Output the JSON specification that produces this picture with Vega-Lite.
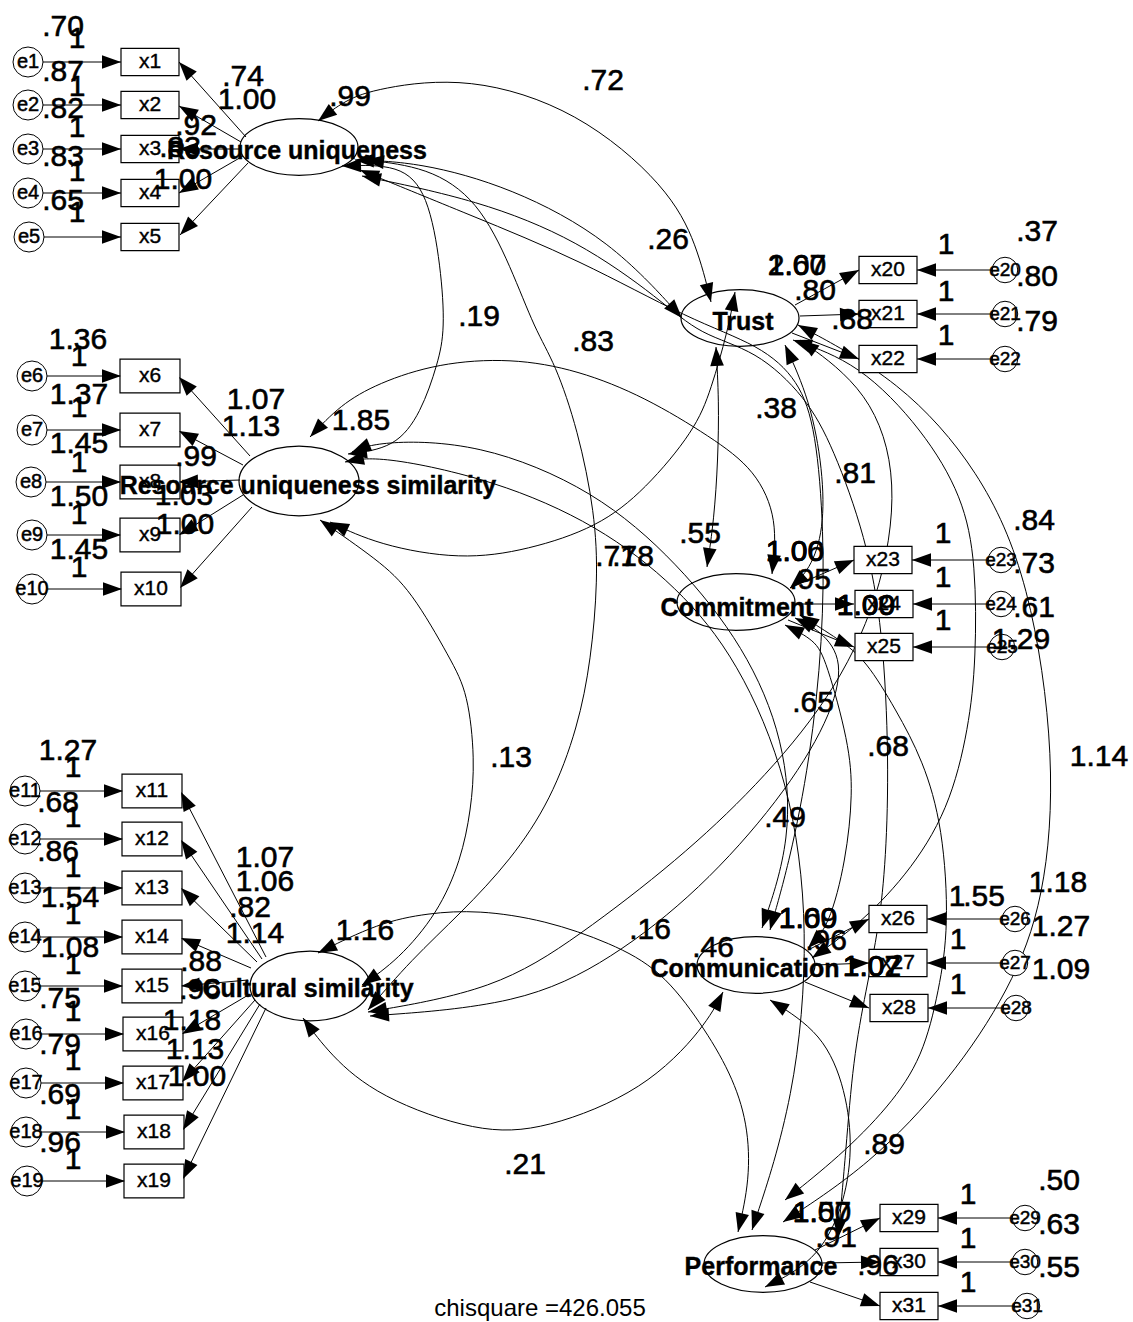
{
"$schema":"https://vega.github.io/schema/vega-lite/v6.json",
"width":1133,"height":1322,"padding":0,"autosize":{"type":"none"},
"background":"white",
"config":{"view":{"stroke":null}},
"datasets":{
"boxesA":[
{"n":"x1","x":150,"y":62},{"n":"x2","x":150,"y":105},{"n":"x3","x":150,"y":149},{"n":"x4","x":150,"y":193},{"n":"x5","x":150,"y":237},
{"n":"x20","x":888,"y":270},{"n":"x21","x":888,"y":314},{"n":"x22","x":888,"y":359},
{"n":"x23","x":883,"y":560},{"n":"x24","x":884,"y":604},{"n":"x25","x":884,"y":647},
{"n":"x26","x":898,"y":919},{"n":"x27","x":898,"y":963},{"n":"x28","x":899,"y":1008},
{"n":"x29","x":909,"y":1218},{"n":"x30","x":909,"y":1262},{"n":"x31","x":909,"y":1306}
],
"boxesB":[
{"n":"x6","x":150,"y":376},{"n":"x7","x":150,"y":430},{"n":"x8","x":150,"y":482},{"n":"x9","x":150,"y":535},{"n":"x10","x":151,"y":589},
{"n":"x11","x":152,"y":791},{"n":"x12","x":152,"y":839},{"n":"x13","x":152,"y":888},{"n":"x14","x":152,"y":937},{"n":"x15","x":152,"y":986},{"n":"x16","x":153,"y":1034},{"n":"x17","x":153,"y":1083},{"n":"x18","x":154,"y":1132},{"n":"x19","x":154,"y":1181}
],
"errsL":[
{"n":"e1","x":28,"y":62},{"n":"e2","x":28,"y":105},{"n":"e3","x":28,"y":149},{"n":"e4","x":28,"y":193},{"n":"e5","x":29,"y":237},
{"n":"e6","x":32,"y":376},{"n":"e7","x":32,"y":430},{"n":"e8","x":31,"y":482},{"n":"e9","x":32,"y":535},{"n":"e10","x":32,"y":589},
{"n":"e11","x":25,"y":791},{"n":"e12","x":25,"y":839},{"n":"e13","x":25,"y":888},{"n":"e14","x":25,"y":937},{"n":"e15","x":25,"y":986},{"n":"e16","x":26,"y":1034},{"n":"e17","x":26,"y":1083},{"n":"e18","x":26,"y":1132},{"n":"e19","x":27,"y":1181}
],
"errsR":[
{"n":"e20","x":1005,"y":270},{"n":"e21","x":1005,"y":314},{"n":"e22","x":1005,"y":359},
{"n":"e23","x":1001,"y":560},{"n":"e24","x":1001,"y":604},{"n":"e25","x":1002,"y":647},
{"n":"e26","x":1015,"y":919},{"n":"e27","x":1015,"y":963},{"n":"e28","x":1016,"y":1008},
{"n":"e29","x":1025,"y":1218},{"n":"e30","x":1025,"y":1262},{"n":"e31","x":1027,"y":1306}
],
"latA":[
{"n":"Resource uniqueness","x":299,"y":147},
{"n":"Trust","x":740,"y":318},{"n":"Commitment","x":736,"y":602},{"n":"Communication","x":756,"y":965},{"n":"Performance","x":763,"y":1264}
],
"latB":[
{"n":"Resource uniqueness similarity","x":299,"y":481},{"n":"Cultural similarity","x":310,"y":986}
],
"latText":[
{"t":"Resource uniqueness","x":297,"y":151},{"t":"Resource uniqueness similarity","x":308,"y":486},{"t":"Cultural similarity","x":308,"y":989},
{"t":"Trust","x":743,"y":322},{"t":"Commitment","x":737,"y":608},{"t":"Communication","x":745,"y":969},{"t":"Performance","x":761,"y":1267}
],
"arrows":[
{"x":43,"y":62,"x2":121,"y2":62},{"x":43,"y":105,"x2":121,"y2":105},{"x":43,"y":149,"x2":121,"y2":149},{"x":43,"y":193,"x2":121,"y2":193},{"x":44,"y":237,"x2":121,"y2":237},
{"x":47,"y":376,"x2":121,"y2":376},{"x":47,"y":430,"x2":121,"y2":430},{"x":46,"y":482,"x2":121,"y2":482},{"x":47,"y":535,"x2":121,"y2":535},{"x":47,"y":589,"x2":122,"y2":589},
{"x":40,"y":791,"x2":123,"y2":791},{"x":40,"y":839,"x2":123,"y2":839},{"x":40,"y":888,"x2":123,"y2":888},{"x":40,"y":937,"x2":123,"y2":937},{"x":40,"y":986,"x2":123,"y2":986},{"x":41,"y":1034,"x2":124,"y2":1034},{"x":41,"y":1083,"x2":124,"y2":1083},{"x":41,"y":1132,"x2":125,"y2":1132},{"x":42,"y":1181,"x2":125,"y2":1181},
{"x":992,"y":270,"x2":917,"y2":270},{"x":992,"y":314,"x2":917,"y2":314},{"x":992,"y":359,"x2":917,"y2":359},
{"x":988,"y":560,"x2":912,"y2":560},{"x":988,"y":604,"x2":913,"y2":604},{"x":989,"y":647,"x2":913,"y2":647},
{"x":1002,"y":919,"x2":927,"y2":919},{"x":1002,"y":963,"x2":927,"y2":963},{"x":1003,"y":1008,"x2":928,"y2":1008},
{"x":1012,"y":1218,"x2":938,"y2":1218},{"x":1012,"y":1262,"x2":938,"y2":1262},{"x":1014,"y":1306,"x2":938,"y2":1306},
{"x":246,"y":137,"x2":179,"y2":62},{"x":241,"y":142,"x2":179,"y2":106},{"x":240,"y":149,"x2":179,"y2":149},{"x":243,"y":156,"x2":179,"y2":193},{"x":248,"y":163,"x2":180,"y2":235},
{"x":250,"y":456,"x2":179,"y2":377},{"x":243,"y":465,"x2":179,"y2":431},{"x":240,"y":480,"x2":179,"y2":482},{"x":243,"y":495,"x2":179,"y2":535},{"x":252,"y":507,"x2":180,"y2":588},
{"x":266,"y":957,"x2":181,"y2":792},{"x":262,"y":959,"x2":181,"y2":840},{"x":257,"y":962,"x2":181,"y2":888},{"x":251,"y":968,"x2":181,"y2":938},{"x":248,"y":980,"x2":181,"y2":986},{"x":250,"y":994,"x2":182,"y2":1034},{"x":255,"y":1000,"x2":182,"y2":1082},{"x":260,"y":1004,"x2":183,"y2":1130},{"x":266,"y":1008,"x2":183,"y2":1179},
{"x":795,"y":305,"x2":859,"y2":270},{"x":800,"y":316,"x2":859,"y2":314},{"x":792,"y":333,"x2":859,"y2":359},
{"x":790,"y":588,"x2":854,"y2":560},{"x":795,"y":604,"x2":854,"y2":604},{"x":788,"y":620,"x2":854,"y2":647},
{"x":808,"y":950,"x2":869,"y2":919},{"x":815,"y":965,"x2":869,"y2":963},{"x":805,"y":982,"x2":869,"y2":1008},
{"x":815,"y":1250,"x2":880,"y2":1218},{"x":820,"y":1263,"x2":880,"y2":1262},{"x":810,"y":1282,"x2":880,"y2":1306}
],
"curves":[
{"id":"k1","xs":[318,345,378,468,578,668,697,711],"ys":[121,100,88,76,110,187,245,302]},
{"id":"k2","xs":[342,400,428,441,445,438,421,395,348],"ys":[166,164,193,267,330,363,413,448,454]},
{"id":"k3","xs":[310,340,378,438,511,578,645,711,756,778,772],"ys":[437,405,383,363,358,370,397,437,470,520,574]},
{"id":"k4","xs":[716,719,718,714,707],"ys":[347,400,460,520,567]},
{"id":"k5","xs":[330,378,461,528,598,645,695,711,728,735],"ys":[522,545,560,550,527,490,430,390,330,292]},
{"id":"k6","xs":[352,378,478,595,678,745,785,792,762],"ys":[452,441,442,490,563,647,740,840,928]},
{"id":"k7","xs":[345,378,495,598,678,738,790,810,795,752],"ys":[462,455,480,525,587,660,780,930,1100,1230]},
{"id":"k9","xs":[355,418,511,611,682],"ys":[160,162,187,240,318]},
{"id":"k10","xs":[362,478,578,661,700,756,806,833,866,883,889,886,879,866,853,846,838],"ys":[176,200,240,300,335,350,397,447,537,630,760,860,927,990,1060,1150,1238]},
{"id":"k10b","xs":[360,470,580,690,760,799,816,824,823,810,790,770],"ys":[170,215,260,320,345,380,430,530,640,760,860,930]},
{"id":"k11","xs":[365,428,478,511,535,555,578,595,598,591,578,551,511,461,411,368],"ys":[160,167,200,267,330,363,430,513,580,660,727,800,860,913,960,1010]},
{"id":"k12","xs":[320,378,411,451,468,475,471,461,438,398,362],"ys":[520,560,590,660,693,760,810,860,913,960,985]},
{"id":"k13","xs":[303,330,378,478,545,645,705,723],"ys":[1018,1055,1097,1133,1130,1090,1027,992]},
{"id":"k14","xs":[318,378,428,478,545,611,661,701,731,748,750,738],"ys":[953,923,913,910,920,943,970,1023,1073,1123,1180,1232]},
{"id":"k15","xs":[368,495,578,678,756,830,880,900,870,800],"ys":[1012,990,937,860,787,700,600,480,390,340]},
{"id":"k16","xs":[370,520,611,700,780,830,845,820,795],"ys":[1016,1005,960,890,800,720,660,630,618]},
{"id":"r1a","xs":[793,859,923,963,976,976,969,949,906,856,812],"ys":[340,363,430,497,563,660,727,810,877,927,958]},
{"id":"r1b","xs":[798,900,980,1030,1056,1045,1010,950,870,783],"ys":[325,380,470,580,760,900,990,1080,1165,1222]},
{"id":"r2","xs":[800,840,866,896,923,943,949,939,923,889,839,785],"ys":[615,640,660,710,760,827,927,990,1057,1107,1157,1200]},
{"id":"r3","xs":[785,815,826,849,853,846,829,808],"ys":[625,640,660,743,793,860,927,948]},
{"id":"r4","xs":[785,810,823,824,810,790],"ys":[345,400,470,530,570,588]},
{"id":"r6","xs":[770,823,846,853,843,815,765],"ys":[1000,1033,1090,1150,1210,1262,1287]}
],
"nums":[
{"t":".70","x":63,"y":27},{"t":".87","x":63,"y":72},{"t":".82","x":63,"y":109},{"t":".83","x":63,"y":157},{"t":".65","x":63,"y":201},
{"t":"1","x":77,"y":39},{"t":"1","x":77,"y":87},{"t":"1","x":77,"y":128},{"t":"1","x":77,"y":172},{"t":"1","x":77,"y":213},
{"t":"1.36","x":78,"y":340},{"t":"1.37","x":79,"y":395},{"t":"1.45","x":79,"y":444},{"t":"1.50","x":79,"y":497},{"t":"1.45","x":79,"y":550},
{"t":"1","x":79,"y":357},{"t":"1","x":79,"y":408},{"t":"1","x":79,"y":463},{"t":"1","x":79,"y":515},{"t":"1","x":79,"y":568},
{"t":"1.27","x":68,"y":751},{"t":".68","x":58,"y":803},{"t":".86","x":58,"y":852},{"t":"1.54","x":70,"y":898},{"t":"1.08","x":70,"y":948},{"t":".75","x":60,"y":999},{"t":".79","x":60,"y":1045},{"t":".69","x":60,"y":1095},{"t":".96","x":60,"y":1143},
{"t":"1","x":73,"y":768},{"t":"1","x":73,"y":818},{"t":"1","x":73,"y":868},{"t":"1","x":73,"y":915},{"t":"1","x":73,"y":965},{"t":"1","x":73,"y":1012},{"t":"1","x":73,"y":1061},{"t":"1","x":73,"y":1110},{"t":"1","x":73,"y":1160},
{"t":".37","x":1037,"y":232},{"t":".80","x":1037,"y":277},{"t":".79","x":1037,"y":322},
{"t":"1","x":946,"y":245},{"t":"1","x":946,"y":292},{"t":"1","x":946,"y":336},
{"t":".84","x":1034,"y":521},{"t":".73","x":1034,"y":564},{"t":".61","x":1034,"y":608},{"t":"1.29","x":1021,"y":640},
{"t":"1","x":943,"y":534},{"t":"1","x":943,"y":578},{"t":"1","x":943,"y":621},
{"t":"1.18","x":1058,"y":883},{"t":"1.27","x":1061,"y":927},{"t":"1.09","x":1061,"y":970},{"t":".55","x":984,"y":897},
{"t":"1","x":957,"y":897},{"t":"1","x":958,"y":940},{"t":"1","x":958,"y":985},
{"t":".50","x":1059,"y":1181},{"t":".63","x":1059,"y":1225},{"t":".55","x":1059,"y":1268},
{"t":"1","x":968,"y":1195},{"t":"1","x":968,"y":1239},{"t":"1","x":968,"y":1283},
{"t":".74","x":243,"y":77},{"t":"1.00","x":247,"y":100},{"t":".92","x":196,"y":126},{"t":".83","x":180,"y":148},{"t":"1.00","x":183,"y":180},
{"t":"1.07","x":256,"y":400},{"t":"1.13","x":251,"y":427},{"t":".99","x":196,"y":457},{"t":"1.03","x":184,"y":496},{"t":"1.00","x":185,"y":525},
{"t":"1.07","x":265,"y":858},{"t":"1.06","x":265,"y":882},{"t":".82","x":250,"y":908},{"t":"1.14","x":255,"y":934},{"t":".88","x":201,"y":962},{"t":".96","x":200,"y":990},{"t":"1.18","x":192,"y":1021},{"t":"1.13","x":195,"y":1050},{"t":"1.00","x":197,"y":1077},
{"t":"1.07","x":797,"y":266},{"t":"2.60","x":797,"y":266},{"t":".80","x":815,"y":291},{"t":".88","x":852,"y":320},
{"t":"1.06","x":795,"y":552},{"t":"1.00","x":795,"y":552},{"t":".95","x":810,"y":580},{"t":"1.09","x":866,"y":606},{"t":"1.00","x":866,"y":606},
{"t":"1.09","x":808,"y":919},{"t":"1.60","x":808,"y":919},{"t":".96","x":826,"y":941},{"t":"1.02","x":872,"y":967},{"t":"1.07","x":872,"y":967},
{"t":"1.57","x":822,"y":1213},{"t":"1.00","x":822,"y":1213},{"t":".91","x":836,"y":1238},{"t":".96","x":878,"y":1266},
{"t":".99","x":350,"y":97},{"t":"1.85","x":361,"y":421},{"t":"1.16","x":365,"y":931},
{"t":".72","x":603,"y":81},{"t":".26","x":668,"y":240},{"t":".19","x":479,"y":317},{"t":".83","x":593,"y":342},{"t":".38","x":776,"y":409},{"t":".81","x":855,"y":474},{"t":".55","x":700,"y":534},{"t":".71","x":616,"y":557},{"t":".78","x":633,"y":557},{"t":".65","x":813,"y":703},{"t":".68","x":888,"y":747},{"t":".13","x":511,"y":758},{"t":".49","x":785,"y":818},{"t":".16","x":650,"y":930},{"t":".46","x":713,"y":948},{"t":".21","x":525,"y":1165},{"t":".89","x":884,"y":1145},{"t":"1.14","x":1099,"y":757}
],
"chi":[{"t":"chisquare =426.055","x":540,"y":1316}]
},
"layer":[
{"data":{"name":"curves"},
 "transform":[{"flatten":["xs","ys"],"as":["x","y"]},{"window":[{"op":"row_number","as":"o"}],"groupby":["id"]}],
 "mark":{"type":"line","interpolate":"basis","stroke":"black","strokeWidth":1},
 "encoding":{
  "x":{"field":"x","type":"quantitative","scale":{"domain":[0,1133],"nice":false,"zero":false},"axis":null},
  "y":{"field":"y","type":"quantitative","scale":{"domain":[0,1322],"nice":false,"zero":false,"reverse":true},"axis":null},
  "detail":{"field":"id","type":"nominal"},
  "order":{"field":"o","type":"quantitative"}}},
{"data":{"name":"curves"},
 "transform":[{"flatten":["xs","ys"],"as":["x","y"]},{"window":[{"op":"row_number","as":"o"}],"groupby":["id"]},
  {"window":[{"op":"lag","field":"x","as":"px"},{"op":"lag","field":"y","as":"py"},{"op":"lead","field":"x","as":"nx"},{"op":"lead","field":"y","as":"ny"},{"op":"count","as":"n"}],"groupby":["id"],"sort":[{"field":"o","order":"ascending"}],"frame":[null,null]},
  {"filter":"datum.o == 1 || datum.o == datum.n"},
  {"calculate":"datum.o == 1 ? datum.nx : datum.px","as":"fx"},
  {"calculate":"datum.o == 1 ? datum.ny : datum.py","as":"fy"},
  {"calculate":"atan2(datum.x - datum.fx, datum.fy - datum.y) * 180 / PI","as":"ang"}],
 "mark":{"type":"point","shape":"M 0 0 L 0.36 1 L -0.36 1 Z","size":1444,"filled":true,"fill":"black","stroke":null,"opacity":1},
 "encoding":{
  "x":{"field":"x","type":"quantitative","scale":{"domain":[0,1133],"nice":false,"zero":false},"axis":null},
  "y":{"field":"y","type":"quantitative","scale":{"domain":[0,1322],"nice":false,"zero":false,"reverse":true},"axis":null},
  "angle":{"field":"ang","type":"quantitative","scale":null}}},
{"data":{"name":"arrows"},
 "mark":{"type":"rule","stroke":"black","strokeWidth":1},
 "encoding":{
  "x":{"field":"x","type":"quantitative","scale":{"domain":[0,1133],"nice":false,"zero":false},"axis":null},
  "y":{"field":"y","type":"quantitative","scale":{"domain":[0,1322],"nice":false,"zero":false,"reverse":true},"axis":null},
  "x2":{"field":"x2"},"y2":{"field":"y2"}}},
{"data":{"name":"latA"},
 "mark":{"type":"point","shape":"M -1 0 C -1 -0.265 -0.552 -0.48 0 -0.48 C 0.552 -0.48 1 -0.265 1 0 C 1 0.265 0.552 0.48 0 0.48 C -0.552 0.48 -1 0.265 -1 0 Z","size":13924,"filled":false,"stroke":"black","strokeWidth":1.2,"opacity":1},
 "encoding":{
  "x":{"field":"x","type":"quantitative","scale":{"domain":[0,1133],"nice":false,"zero":false},"axis":null},
  "y":{"field":"y","type":"quantitative","scale":{"domain":[0,1322],"nice":false,"zero":false,"reverse":true},"axis":null}}},
{"data":{"name":"latB"},
 "mark":{"type":"point","shape":"M -1 0 C -1 -0.32 -0.552 -0.58 0 -0.58 C 0.552 -0.58 1 -0.32 1 0 C 1 0.32 0.552 0.58 0 0.58 C -0.552 0.58 -1 0.32 -1 0 Z","size":14400,"filled":false,"stroke":"black","strokeWidth":1.2,"opacity":1},
 "encoding":{
  "x":{"field":"x","type":"quantitative","scale":{"domain":[0,1133],"nice":false,"zero":false},"axis":null},
  "y":{"field":"y","type":"quantitative","scale":{"domain":[0,1322],"nice":false,"zero":false,"reverse":true},"axis":null}}},
{"data":{"name":"boxesA"},
 "mark":{"type":"point","shape":"M -1 -0.47 L 1 -0.47 L 1 0.47 L -1 0.47 Z","size":3364,"filled":true,"fill":"white","stroke":"black","strokeWidth":1.2,"opacity":1},
 "encoding":{
  "x":{"field":"x","type":"quantitative","scale":{"domain":[0,1133],"nice":false,"zero":false},"axis":null},
  "y":{"field":"y","type":"quantitative","scale":{"domain":[0,1322],"nice":false,"zero":false,"reverse":true},"axis":null}}},
{"data":{"name":"boxesB"},
 "mark":{"type":"point","shape":"M -1 -0.56 L 1 -0.56 L 1 0.56 L -1 0.56 Z","size":3600,"filled":true,"fill":"white","stroke":"black","strokeWidth":1.2,"opacity":1},
 "encoding":{
  "x":{"field":"x","type":"quantitative","scale":{"domain":[0,1133],"nice":false,"zero":false},"axis":null},
  "y":{"field":"y","type":"quantitative","scale":{"domain":[0,1322],"nice":false,"zero":false,"reverse":true},"axis":null}}},
{"data":{"name":"errsL"},
 "mark":{"type":"point","shape":"circle","size":900,"filled":true,"fill":"white","stroke":"black","strokeWidth":1,"opacity":1},
 "encoding":{
  "x":{"field":"x","type":"quantitative","scale":{"domain":[0,1133],"nice":false,"zero":false},"axis":null},
  "y":{"field":"y","type":"quantitative","scale":{"domain":[0,1322],"nice":false,"zero":false,"reverse":true},"axis":null}}},
{"data":{"name":"errsR"},
 "mark":{"type":"point","shape":"circle","size":650,"filled":true,"fill":"white","stroke":"black","strokeWidth":1,"opacity":1},
 "encoding":{
  "x":{"field":"x","type":"quantitative","scale":{"domain":[0,1133],"nice":false,"zero":false},"axis":null},
  "y":{"field":"y","type":"quantitative","scale":{"domain":[0,1322],"nice":false,"zero":false,"reverse":true},"axis":null}}},
{"data":{"name":"arrows"},
 "transform":[{"calculate":"atan2(datum.x2 - datum.x, datum.y - datum.y2) * 180 / PI","as":"ang"}],
 "mark":{"type":"point","shape":"M 0 0 L 0.36 1 L -0.36 1 Z","size":1444,"filled":true,"fill":"black","stroke":null,"opacity":1},
 "encoding":{
  "x":{"field":"x2","type":"quantitative","scale":{"domain":[0,1133],"nice":false,"zero":false},"axis":null},
  "y":{"field":"y2","type":"quantitative","scale":{"domain":[0,1322],"nice":false,"zero":false,"reverse":true},"axis":null},
  "angle":{"field":"ang","type":"quantitative","scale":null}}},
{"data":{"name":"boxesA"},
 "mark":{"type":"text","font":"Liberation Sans","fontSize":21,"align":"center","baseline":"middle","fill":"black","stroke":"black","strokeWidth":0.4},
 "encoding":{
  "x":{"field":"x","type":"quantitative","scale":{"domain":[0,1133],"nice":false,"zero":false},"axis":null},
  "y":{"field":"y","type":"quantitative","scale":{"domain":[0,1322],"nice":false,"zero":false,"reverse":true},"axis":null},
  "text":{"field":"n","type":"nominal"}}},
{"data":{"name":"boxesB"},
 "mark":{"type":"text","font":"Liberation Sans","fontSize":21,"align":"center","baseline":"middle","fill":"black","stroke":"black","strokeWidth":0.4},
 "encoding":{
  "x":{"field":"x","type":"quantitative","scale":{"domain":[0,1133],"nice":false,"zero":false},"axis":null},
  "y":{"field":"y","type":"quantitative","scale":{"domain":[0,1322],"nice":false,"zero":false,"reverse":true},"axis":null},
  "text":{"field":"n","type":"nominal"}}},
{"data":{"name":"errsL"},
 "mark":{"type":"text","font":"Liberation Sans","fontSize":20,"align":"center","baseline":"middle","fill":"black","stroke":"black","strokeWidth":0.5},
 "encoding":{
  "x":{"field":"x","type":"quantitative","scale":{"domain":[0,1133],"nice":false,"zero":false},"axis":null},
  "y":{"field":"y","type":"quantitative","scale":{"domain":[0,1322],"nice":false,"zero":false,"reverse":true},"axis":null},
  "text":{"field":"n","type":"nominal"}}},
{"data":{"name":"errsR"},
 "mark":{"type":"text","font":"Liberation Sans","fontSize":19,"align":"center","baseline":"middle","fill":"black","stroke":"black","strokeWidth":0.5},
 "encoding":{
  "x":{"field":"x","type":"quantitative","scale":{"domain":[0,1133],"nice":false,"zero":false},"axis":null},
  "y":{"field":"y","type":"quantitative","scale":{"domain":[0,1322],"nice":false,"zero":false,"reverse":true},"axis":null},
  "text":{"field":"n","type":"nominal"}}},
{"data":{"name":"latText"},
 "mark":{"type":"text","font":"Liberation Sans","fontSize":25,"fontWeight":"bold","align":"center","baseline":"middle","fill":"black","stroke":"black","strokeWidth":0.4},
 "encoding":{
  "x":{"field":"x","type":"quantitative","scale":{"domain":[0,1133],"nice":false,"zero":false},"axis":null},
  "y":{"field":"y","type":"quantitative","scale":{"domain":[0,1322],"nice":false,"zero":false,"reverse":true},"axis":null},
  "text":{"field":"t","type":"nominal"}}},
{"data":{"name":"nums"},
 "mark":{"type":"text","font":"Liberation Sans","fontSize":30,"align":"center","baseline":"middle","fill":"black","stroke":"black","strokeWidth":0.6},
 "encoding":{
  "x":{"field":"x","type":"quantitative","scale":{"domain":[0,1133],"nice":false,"zero":false},"axis":null},
  "y":{"field":"y","type":"quantitative","scale":{"domain":[0,1322],"nice":false,"zero":false,"reverse":true},"axis":null},
  "text":{"field":"t","type":"nominal"}}},
{"data":{"name":"chi"},
 "mark":{"type":"text","font":"Liberation Sans","fontSize":24,"align":"center","baseline":"alphabetic","fill":"black"},
 "encoding":{
  "x":{"field":"x","type":"quantitative","scale":{"domain":[0,1133],"nice":false,"zero":false},"axis":null},
  "y":{"field":"y","type":"quantitative","scale":{"domain":[0,1322],"nice":false,"zero":false,"reverse":true},"axis":null},
  "text":{"field":"t","type":"nominal"}}}
]
}
